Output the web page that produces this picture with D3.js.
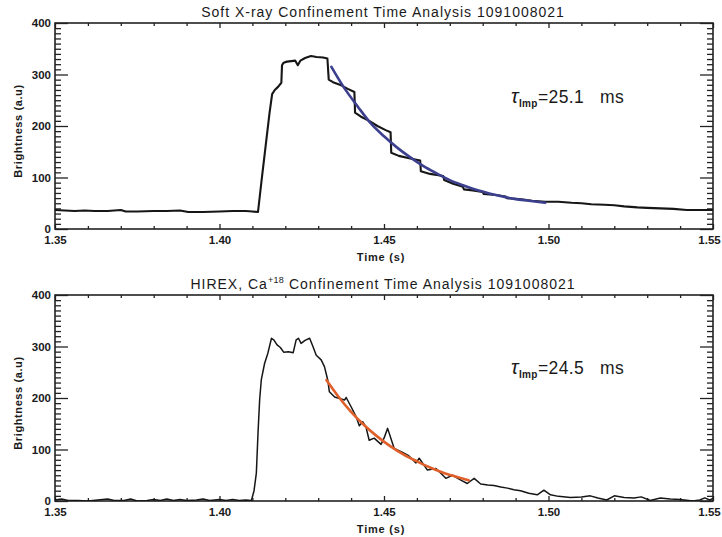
<!DOCTYPE html>
<html>
<head>
<meta charset="utf-8">
<script src="https://cdn.jsdelivr.net/npm/d3@7"></script>
<style>
  body { margin: 0; background: #fff; }
  text { font-family: "Liberation Sans", Arial, Helvetica, sans-serif; fill: #1a1a1a; }
</style>
</head>
<body>
<svg id="chart" width="722" height="537"></svg>
<script>
// ---- data: [time (s), brightness (a.u.)] ----
const sxrTrace = [
  [1.350,37],[1.353,36],[1.356,35],[1.359,36],[1.362,35],[1.366,35],[1.370,37],[1.3715,34],
  [1.375,34],[1.380,35],[1.384,35],[1.388,36],[1.3905,33],[1.395,33],[1.400,34],[1.404,35],
  [1.408,35],[1.410,34],[1.4117,33],[1.4128,95],[1.4140,160],[1.4152,225],[1.4160,262],
  [1.4168,270],[1.4178,276],[1.4188,284],[1.4190,318],[1.4195,323],[1.4205,325],[1.4218,326],
  [1.4230,327],[1.4238,318],[1.4246,327],[1.4260,332],[1.4278,336],[1.4295,334],[1.4315,333],
  [1.4328,331],[1.4332,290],[1.4345,285],[1.4370,279],[1.4390,272],[1.4410,266],[1.4412,226],
  [1.4430,218],[1.4455,210],[1.4480,200],[1.4505,192],[1.4520,188],[1.4522,148],[1.4545,142],
  [1.4580,137],[1.4610,133],[1.4612,112],[1.4640,107],[1.4680,103],[1.4683,95],[1.4710,88],
  [1.4740,82],[1.4743,77],[1.4770,75],[1.4800,72],[1.4803,68],[1.4840,66],[1.4870,63],
  [1.4873,60],[1.4910,58],[1.4950,55],[1.4990,53],[1.5030,53],[1.5070,51],[1.5100,50],
  [1.5130,48],[1.5170,47],[1.5200,46],[1.5230,44],[1.5270,42],[1.5300,41],[1.5340,40],
  [1.5380,39],[1.5420,37],[1.5460,37],[1.5500,37]
];
const sxrFit = [
  [1.434,315],[1.438,273],[1.442,238],[1.446,205],[1.450,180],[1.454,158],[1.458,139],
  [1.462,122],[1.466,108],[1.470,95],[1.474,85],[1.478,76],[1.482,69],[1.486,63],
  [1.490,58],[1.494,55],[1.499,51]
];
const hirexTrace = [
  [1.350,2],[1.352,4],[1.354,1],[1.357,1],[1.360,0],[1.363,2],[1.366,4],[1.368,1],[1.371,1],
  [1.373,4],[1.375,0],[1.378,1],[1.380,3],[1.382,1],[1.384,4],[1.386,1],[1.388,3],[1.390,1],
  [1.393,2],[1.395,4],[1.397,1],[1.400,3],[1.402,1],[1.404,3],[1.406,1],[1.408,2],[1.4097,1],
  [1.4105,20],[1.4112,54],[1.4117,131],[1.4122,196],[1.4127,235],[1.4137,267],[1.4147,287],
  [1.4158,316],[1.4165,313],[1.4175,303],[1.4185,298],[1.4195,289],[1.4210,290],[1.4224,288],
  [1.4233,313],[1.4240,316],[1.4248,306],[1.4260,312],[1.4274,316],[1.4284,300],[1.4294,283],
  [1.4309,274],[1.4319,261],[1.4329,235],[1.4334,212],[1.4350,202],[1.4365,199],[1.4380,196],
  [1.4385,201],[1.4400,183],[1.4415,164],[1.4425,146],[1.4435,154],[1.4445,144],[1.4455,118],
  [1.4470,122],[1.4491,110],[1.4500,122],[1.4511,141],[1.4531,102],[1.4555,95],[1.4575,88],
  [1.4597,74],[1.4607,83],[1.4632,60],[1.4658,63],[1.4688,44],[1.4708,50],[1.4735,40],
  [1.4753,34],[1.4774,44],[1.4794,33],[1.4815,31],[1.4834,30],[1.4855,27],[1.4875,25],
  [1.4895,22],[1.4915,20],[1.4940,15],[1.4966,12],[1.4986,21],[1.5006,12],[1.5030,9],
  [1.5067,7],[1.5100,8],[1.5127,10],[1.5150,6],[1.5177,2],[1.5200,10],[1.5230,7],[1.5260,6],
  [1.5282,8],[1.5309,1],[1.5340,6],[1.5370,4],[1.5400,3],[1.5439,0],[1.5460,2],[1.5475,6],
  [1.5490,2],[1.5500,5]
];
const hirexFit = [
  [1.4325,235],[1.436,204],[1.440,173],[1.444,147],[1.448,125],[1.452,106],[1.456,90],
  [1.460,77],[1.464,65],[1.468,55],[1.472,47],[1.4758,40]
];

const xTicks = [1.35, 1.40, 1.45, 1.50, 1.55];
const xMinor = [1.36,1.37,1.38,1.39,1.41,1.42,1.43,1.44,1.46,1.47,1.48,1.49,1.51,1.52,1.53,1.54];
const yTicks = [0, 100, 200, 300, 400];
const yMinor = d3.range(0, 401, 10).filter(v => v % 100 !== 0);

const svg = d3.select("#chart");
const left = 55, right = 713;

const x = d3.scaleLinear().domain([1.35, 1.55]).range([left, right]);

const drawPanel = (opts) => {
    const y = d3.scaleLinear().domain([0, 400]).range([opts.bottom, opts.top]);
    const g = svg.append("g");

    const clipId = "clip" + opts.top;
    svg.append("clipPath").attr("id", clipId)
        .append("rect")
        .attr("x", left).attr("y", opts.top)
        .attr("width", right - left).attr("height", opts.bottom - opts.top);

    // axes, ticks point inward
    const axes = [
        [d3.axisBottom(x).tickValues(xTicks).tickSize(-5).tickPadding(7).tickFormat(d3.format(".2f")), `translate(0,${opts.bottom})`],
        [d3.axisBottom(x).tickValues(xMinor).tickSize(-3).tickFormat(""), `translate(0,${opts.bottom})`],
        [d3.axisTop(x).tickValues(xTicks).tickSize(-5).tickFormat(""), `translate(0,${opts.top})`],
        [d3.axisTop(x).tickValues(xMinor).tickSize(-3).tickFormat(""), `translate(0,${opts.top})`],
        [d3.axisLeft(y).tickValues(yTicks).tickSize(-13).tickPadding(4), `translate(${left},0)`],
        [d3.axisLeft(y).tickValues(yMinor).tickSize(-6).tickFormat(""), `translate(${left},0)`],
        [d3.axisRight(y).tickValues(yTicks).tickSize(-13).tickFormat(""), `translate(${right},0)`],
        [d3.axisRight(y).tickValues(yMinor).tickSize(-6).tickFormat(""), `translate(${right},0)`]
    ];
    axes.forEach(([ax, tr]) => {
        const a = g.append("g").attr("transform", tr).call(ax);
        a.select(".domain").remove();
        a.selectAll("line").attr("stroke", "#222").attr("stroke-width", 1.3);
        a.selectAll("text")
            .attr("font-family", '"Liberation Sans", Arial, sans-serif')
            .attr("font-size", 11.5)
            .attr("font-weight", "bold")
            .attr("fill", "#222");
    });
    // last x label sits on the window edge; pull it in a little
    g.selectAll(".tick text").filter(d => d === 1.55).attr("dx", -4);

    g.append("rect")
        .attr("x", left).attr("y", opts.top)
        .attr("width", right - left).attr("height", opts.bottom - opts.top)
        .attr("fill", "none").attr("stroke", "#222").attr("stroke-width", 1.6);

    const line = d3.line().x(d => x(d[0])).y(d => y(d[1]));

    g.append("path")
        .datum(opts.trace)
        .attr("clip-path", `url(#${clipId})`)
        .attr("d", line)
        .attr("fill", "none")
        .attr("stroke", "#161616")
        .attr("stroke-width", opts.traceWidth)
        .attr("stroke-linejoin", "round");

    g.append("path")
        .datum(opts.fit)
        .attr("d", line.curve(d3.curveMonotoneX))
        .attr("fill", "none")
        .attr("stroke", opts.fitColor)
        .attr("stroke-width", 2.6)
        .attr("stroke-linecap", "round");

    // title
    const title = g.append("text")
        .attr("x", (left + right) / 2 - 1).attr("y", opts.top - 6)
        .attr("text-anchor", "middle")
        .attr("font-size", 14)
        .attr("letter-spacing", 1);
    opts.title.forEach(part => {
        const ts = title.append("tspan").text(part.t);
        if (part.sup) ts.attr("font-size", 9).attr("dy", -6).attr("letter-spacing", 0.3);
        if (part.after) ts.attr("dy", 6);
    });

    // axis labels
    g.append("text")
        .attr("x", (left + right) / 2 - 3).attr("y", opts.bottom + 32)
        .attr("text-anchor", "middle")
        .attr("font-size", 11).attr("font-weight", "bold")
        .attr("letter-spacing", 0.8)
        .text("Time (s)");

    g.append("text")
        .attr("transform", `translate(22,${(opts.top + opts.bottom) / 2 + 5}) rotate(-90)`)
        .attr("text-anchor", "middle")
        .attr("font-size", 11).attr("font-weight", "bold")
        .attr("letter-spacing", 0.6)
        .text("Brightness (a.u)");

    // decay time annotation
    const tau = g.append("text")
        .attr("x", 511).attr("y", opts.top + opts.tauDy)
        .attr("font-size", 17.5)
        .attr("letter-spacing", 0.4);
    tau.append("tspan").attr("font-style", "italic").attr("font-size", 20).text("τ");
    tau.append("tspan").attr("font-size", 10).attr("font-weight", "bold").attr("dy", 4).text("Imp");
    tau.append("tspan").attr("dy", -4).text("=" + opts.tau + "\u00a0\u00a0 ms");
};

drawPanel({
    top: 23, bottom: 229,
    trace: sxrTrace, traceWidth: 2.1,
    fit: sxrFit, fitColor: "#3c3f8e",
    title: [{ t: "Soft X-ray Confinement Time Analysis 1091008021" }],
    tau: "25.1", tauDy: 80
});

drawPanel({
    top: 295, bottom: 501,
    trace: hirexTrace, traceWidth: 1.5,
    fit: hirexFit, fitColor: "#e0602b",
    title: [{ t: "HIREX, Ca" }, { t: "+18", sup: true }, { t: " Confinement Time Analysis 1091008021", after: true }],
    tau: "24.5", tauDy: 79
});
</script>
</body>
</html>
